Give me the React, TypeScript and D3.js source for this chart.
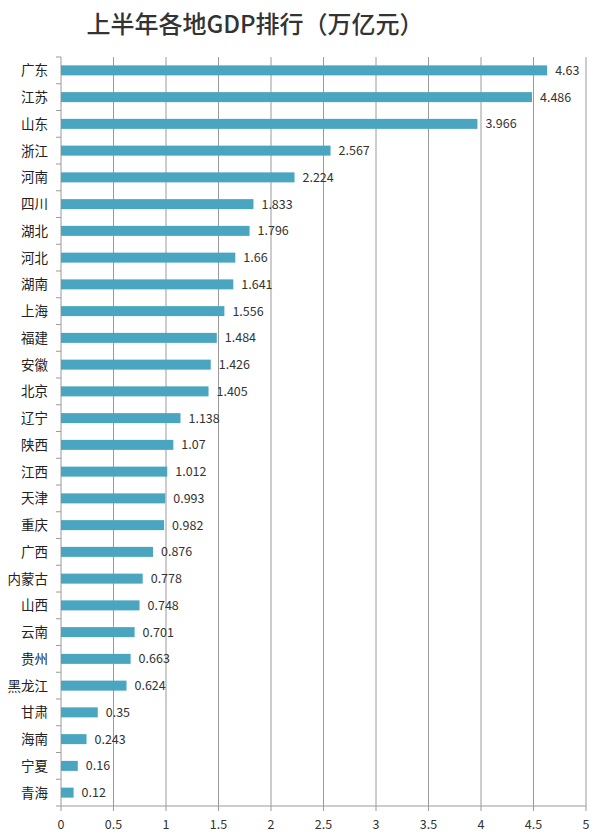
import React from "react";
import * as d3 from "d3";

const categories = ["广东","江苏","山东","浙江","河南","四川","湖北","河北","湖南","上海","福建","安徽","北京","辽宁","陕西","江西","天津","重庆","广西","内蒙古","山西","云南","贵州","黑龙江","甘肃","海南","宁夏","青海"];
const values = [4.63,4.486,3.966,2.567,2.224,1.833,1.796,1.66,1.641,1.556,1.484,1.426,1.405,1.138,1.07,1.012,0.993,0.982,0.876,0.778,0.748,0.701,0.663,0.624,0.35,0.243,0.16,0.12];
const valueLabels = ["4.63","4.486","3.966","2.567","2.224","1.833","1.796","1.66","1.641","1.556","1.484","1.426","1.405","1.138","1.07","1.012","0.993","0.982","0.876","0.778","0.748","0.701","0.663","0.624","0.35","0.243","0.16","0.12"];
const xTicks = [0,0.5,1,1.5,2,2.5,3,3.5,4,4.5,5];
const title = "上半年各地GDP排行（万亿元）";

const W = 600, H = 839;
const left = 61, right = 586, top = 57, bottom = 806;
const font = "'Noto Sans CJK SC', 'Noto Sans', sans-serif";

export default function App() {
  const x = d3.scaleLinear().domain([0, 5]).range([left, right]);
  const y = d3.scaleBand<string>().domain(categories).range([top, bottom]).paddingInner(0).paddingOuter(0);
  const bw = y.bandwidth();
  const barH = 10;
  const grid = "#9a9a9a";
  return (
    <svg width={W} height={H} style={{ position: "absolute", left: 0, top: 0, background: "#fff" }}>
      <rect x={0} y={0} width={W} height={H} fill="#fff" />
      <text x={255} y={33} textAnchor="middle" fontFamily={font} fontSize={24} fill="#333" fontWeight={500}>{title}</text>
      {xTicks.map((t) => (
        <line key={"g" + t} x1={x(t)} x2={x(t)} y1={top} y2={bottom + 5} stroke={grid} strokeWidth={1} />
      ))}
      <line x1={left} x2={right} y1={bottom} y2={bottom} stroke={grid} strokeWidth={1} />
      {categories.map((c, i) => (
        <line key={"yt" + i} x1={left - 5} x2={left} y1={(y(c) as number)} y2={(y(c) as number)} stroke={grid} strokeWidth={1} />
      ))}
      <line x1={left - 5} x2={left} y1={bottom} y2={bottom} stroke={grid} strokeWidth={1} />
      {categories.map((c, i) => {
        const cy = (y(c) as number) + bw / 2;
        return (
          <g key={c}>
            <rect x={x(0)} y={cy - barH / 2} width={x(values[i]) - x(0)} height={barH} fill="#4aa6c0" />
            <text x={x(values[i]) + 8} y={cy + 4.5} fontFamily={font} fontSize={12.5} fill="#333">{valueLabels[i]}</text>
            <text x={48} y={cy + 5} textAnchor="end" fontFamily={font} fontSize={13.5} fill="#222">{c}</text>
          </g>
        );
      })}
      {xTicks.map((t) => (
        <text key={"xl" + t} x={x(t)} y={829} textAnchor="middle" fontFamily={font} fontSize={12.5} fill="#333">{String(t)}</text>
      ))}
    </svg>
  );
}
